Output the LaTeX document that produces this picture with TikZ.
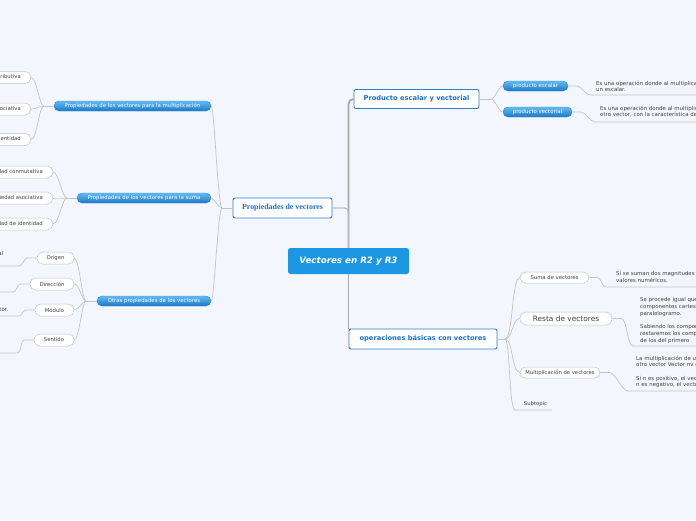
\documentclass[tikz,border=0pt]{standalone}
\usepackage{fontspec}
\setmainfont{DejaVu Sans}
\newfontfamily\serifb{Liberation Serif}
\usetikzlibrary{calc}
\definecolor{bgc}{HTML}{F3F6FD}
\definecolor{trunkc}{HTML}{A9A9A9}
\definecolor{brc}{HTML}{C4C4C4}
\definecolor{mainblue}{HTML}{1D97E4}
\definecolor{boxblue}{HTML}{2B7ED6}
\definecolor{txtblue}{HTML}{1E6FCC}
\definecolor{pilltop}{HTML}{63BBF0}
\definecolor{pillbot}{HTML}{1C78C6}
\definecolor{pillbd}{HTML}{2E86CF}
\definecolor{boxbd}{HTML}{C2C2C2}
\definecolor{txtgray}{HTML}{404040}
\tikzset{
  rootbox/.style={fill=mainblue, rounded corners=2.5pt, text=white, font=\fontsize{8.7}{10}\selectfont\bfseries\itshape, minimum width=121pt, minimum height=26pt, inner sep=0pt},
  mainbox/.style={fill=white, draw=boxblue, line width=0.9pt, rounded corners=2pt, text=txtblue, font=\fontsize{6.7}{8}\selectfont\bfseries, inner sep=0pt},
  pill/.style={draw=pillbd, line width=0.4pt, top color=pilltop, bottom color=pillbot, rounded corners=5pt, text=white, font=\fontsize{5.4}{6}\selectfont, inner sep=0pt, minimum height=10pt},
  topic/.style={draw=boxbd, line width=0.5pt, fill=white, rounded corners=5.5pt, text=txtgray, font=\fontsize{5.3}{6}\selectfont, inner sep=0pt, minimum height=12pt},
  cuttopic/.style={topic, inner xsep=10pt, anchor=east},
  leaf/.style={text=txtgray, font=\fontsize{5.45}{6.7}\selectfont, align=left, inner sep=0pt, anchor=north west},
  trunk/.style={draw=trunkc, line width=1.8pt},
  br/.style={draw=brc, line width=0.7pt}
}
\begin{document}
\begin{tikzpicture}[x=1pt,y=-1pt]
\useasboundingbox (0,0) rectangle (696,520);
\fill[bgc] (0,0) rectangle (696,520);
\clip (0,0) rectangle (696,520);

% main nodes
\node[rootbox] (root) at (348.5,261) {Vectores en R2 y R3};
\node[mainbox, minimum width=125pt, minimum height=19pt] (prod) at (416.5,99) {Producto escalar y vectorial};
\node[mainbox, minimum width=99pt, minimum height=20pt, font={\serifb\fontsize{7.9}{9}\selectfont\bfseries}] (prop) at (282.5,208) {Propiedades de vectores};
\node[mainbox, minimum width=148pt, minimum height=20pt] (ops) at (423,339) {operaciones básicas con vectores};

% trunk
\draw[trunk, rounded corners=5pt] (root.north) |- (prod.west);
\draw[trunk, draw=brc!90!gray, line width=1.2pt, rounded corners=4pt] (prop.east) -| (root.north);
\draw[trunk] (root.south) -- (root.south |- ops.north);

% left pills
\node[pill, minimum width=157pt] (pmul) at (132.5,106) {Propiedades de los vectores para la multiplicación};
\node[pill, minimum width=134pt] (psum) at (144,198) {Propiedades de los vectores para la suma};
\node[pill, minimum width=114pt] (potr) at (154,301) {Otras propiedades de los vectores};
\coordinate (jL) at (222,208);
\draw[br] (prop.west) -- (jL);
\foreach \p in {pmul,psum,potr} \draw[br] (jL) .. controls +(-4,0) and +(3,0) .. (\p.east);

% multiplication children
\node[cuttopic] (mc1) at (31,77.5) {Propiedad distributiva};
\node[cuttopic] (mc2) at (31,109) {Propiedad asociativa};
\node[cuttopic] (mc3) at (31,139.5) {Propiedad de identidad};
\coordinate (jm) at (44,106);
\draw[br] (pmul.west) -- (jm);
\foreach \c in {mc1,mc2,mc3} \draw[br] (jm) .. controls +(-5,0) and +(6,0) .. (\c.east);

% sum children
\node[cuttopic] (sc1) at (53,172) {Propiedad conmutativa};
\node[cuttopic] (sc2) at (53,198) {Propiedad asociativa};
\node[cuttopic] (sc3) at (53,224) {Propiedad de identidad};
\coordinate (js) at (67,198);
\draw[br] (psum.west) -- (js);
\foreach \c in {sc1,sc2,sc3} \draw[br] (js) .. controls +(-5,0) and +(6,0) .. (\c.east);

% other properties children
\node[topic, minimum width=37pt] (orig) at (55.5,258) {Origen};
\node[topic, minimum width=44pt] (dirn) at (52,284) {Dirección};
\node[topic, minimum width=39pt] (modu) at (54.5,310) {Módulo};
\node[topic, minimum width=40pt] (sent) at (54,340) {Sentido};
\coordinate (jo2) at (86,301);
\draw[br] (potr.west) -- (jo2);
\foreach \c in {orig,dirn,modu,sent} \draw[br] (jo2) .. controls +(-4,0) and +(5,0) .. (\c.east);

% their leaves
\coordinate (uori) at (19,266);
\draw[br] (orig.west) -- ++(-9,0) .. controls +(-4,0) and +(4,0) .. (uori) -- ++(-60,0);
\node[leaf, anchor=east] (lori) at (3.5,254) {Es el punto de aplicación del vector, su punto inicial};
\coordinate (udir) at (13,292);
\draw[br] (dirn.west) -- ++(-9,0) .. controls +(-4,0) and +(4,0) .. (udir) -- ++(-60,0);
\coordinate (umod) at (19,316);
\draw[br] (modu.west) -- ++(-9,0) .. controls +(-4,0) and +(4,0) .. (umod) -- ++(-60,0);
\node[leaf, anchor=east] (lmod) at (8.5,310) {Es la longitud o tamaño del vector.};
\coordinate (usen) at (17,353);
\draw[br] (sent.west) -- ++(-9,0) .. controls +(-5,0) and +(5,0) .. (usen) -- ++(-60,0);

% right top
\node[pill, minimum width=65pt] (pesc) at (535.5,86) {producto escalar};
\node[pill, minimum width=69pt] (pvec) at (537.5,112) {producto vectorial};
\coordinate (jp) at (491,99);
\draw[br] (prod.east) -- (jp);
\draw[br] (jp) .. controls +(4,0) and +(-4,0) .. (pesc.west);
\draw[br] (jp) .. controls +(4,0) and +(-4,0) .. (pvec.west);
\coordinate (uesc) at (590,95);
\draw[br] (pesc.east) -- ++(9,0) .. controls +(4,0) and +(-5,0) .. (uesc) -- ++(120,0);
\node[leaf] (lesc) at (596,80.5) {Es una operación donde al multiplicar dos vectores se obtiene\\un escalar.};
\coordinate (uvec) at (595,122);
\draw[br] (pvec.east) -- ++(9,0) .. controls +(4,0) and +(-5,0) .. (uvec) -- ++(120,0);
\node[leaf] (lvec) at (600,105.5) {Es una operación donde al multiplicar dos vectores se obtiene\\otro vector, con la característica de ser perpendicular a ambos.};

% right bottom
\node[topic, minimum width=69pt, minimum height=11pt] (suma) at (554.5,277.5) {Suma de vectores};
\node[topic, minimum width=92pt, minimum height=13pt, rounded corners=6.5pt, font=\fontsize{7.4}{9}\selectfont] (resta) at (566,318.5) {Resta de vectores};
\node[topic, minimum width=80pt, minimum height=11pt] (multi) at (560,372.5) {Multiplicación de vectores};
\node[text=txtgray, font=\fontsize{5.3}{6}\selectfont, inner sep=0pt] (subt) at (535.5,404.5) {Subtopic};
\coordinate (jo) at (505,339);
\draw[br] (ops.east) -- (jo);
\foreach \c in {suma,resta,multi} \draw[br] (jo) .. controls +(8,0) and +(-8,0) .. (\c.west);
\coordinate (usub) at (515,410);
\draw[br] (jo) .. controls +(5,0) and +(-6,0) .. (usub) -- ++(37,0);

\coordinate (usum) at (606,287);
\draw[br] (suma.east) -- ++(8,0) .. controls +(4,0) and +(-4,0) .. (usum) -- ++(100,0);
\node[leaf] (lsum) at (616,271.5) {Si se suman dos magnitudes escalares se suman sus\\valores numéricos.};
\coordinate (ures) at (633,346);
\draw[br] (resta.east) -- ++(9,0) .. controls +(6,0) and +(-6,0) .. (ures) -- ++(80,0);
\node[leaf] (lres) at (640,297.5) {Se procede igual que en la suma, con las\\componentes cartesianas o con la regla del\\paralelogramo.\\[6.7pt]Sabiendo los componentes de dos vectores,\\restaremos los componentes del segundo\\de los del primero};
\coordinate (umul) at (628,391);
\draw[br] (multi.east) -- ++(9,0) .. controls +(6,0) and +(-6,0) .. (umul) -- ++(80,0);
\node[leaf] (lmul) at (636,355.5) {La multiplicación de un número n por\\otro vector Vector nv da otro vector.\\[6.7pt]Si n es positivo, el vector conserva su sentido; si\\n es negativo, el vector cambia de sentido.};
\end{tikzpicture}
\end{document}
